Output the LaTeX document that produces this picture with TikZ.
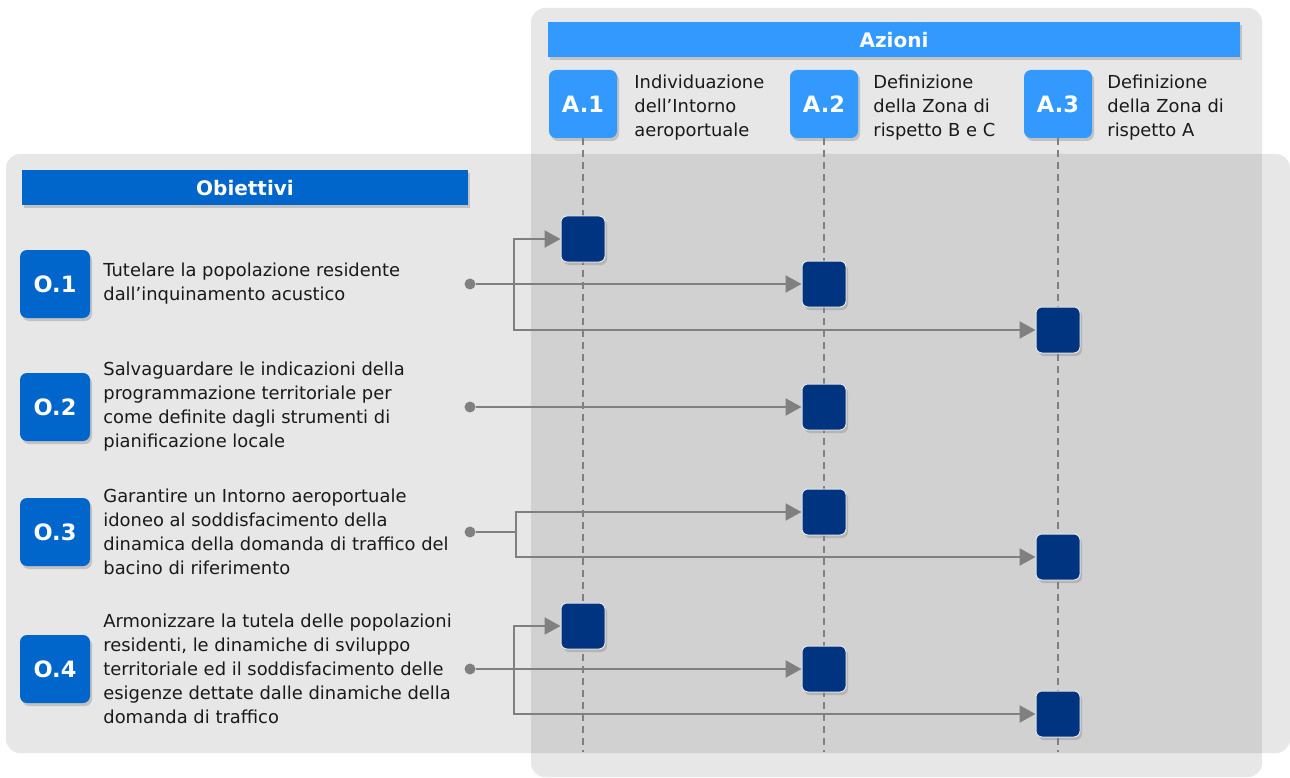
\documentclass[tikz,border=0pt]{standalone}
\usepackage{fontspec}
\setmainfont{DejaVu Sans}
\usepackage{xcolor}
\usepackage{tikz}
\usetikzlibrary{positioning,arrows.meta,shadows,calc}

\definecolor{azure}{HTML}{3399FF}
\definecolor{obblue}{HTML}{0066CC}
\definecolor{navy}{HTML}{003380}
\definecolor{linegray}{HTML}{808080}
\definecolor{txt}{HTML}{1A1A1A}

\tikzset{
  panel/.style={fill=black, fill opacity=0.095, rounded corners=14pt},
  softshadow/.style={drop shadow={shadow xshift=2pt, shadow yshift=-3pt, opacity=0.35}},
  bar/.style={minimum height=35pt, inner sep=0pt, text=white, softshadow,
    font=\bfseries\fontsize{20}{20}\selectfont},
  codebox/.style={rounded corners=7pt, minimum width=68pt, minimum height=68pt, inner sep=0pt,
    text=white, softshadow, font=\bfseries\fontsize{22.5}{22.5}\selectfont},
  cellbox/.style={fill=navy, draw=white!80!gray, line width=1pt, rounded corners=6pt,
    minimum width=44pt, minimum height=46pt, inner sep=0pt, softshadow},
  desc/.style={align=left, inner sep=0pt, text=txt, font=\fontsize{17.9}{24}\selectfont},
  guide/.style={linegray, line width=1.4pt, dash pattern=on 7pt off 5pt},
  link/.style={linegray, line width=2.3pt, -{Triangle[length=16pt,width=17pt]}},
  joint/.style={linegray, line width=2.3pt},
  dot/.style={circle, fill=linegray, inner sep=0pt, minimum size=11pt},
}

\begin{document}
\begin{tikzpicture}[x=1pt,y=-1pt]
    \useasboundingbox (0,0) rectangle (1290,778);

    % the two panels, overlapping
    \fill[panel] (531,8) rectangle (1262,777);
    \fill[panel] (6,154) rectangle (1290,753);

    % headers
    \node[bar, fill=azure, minimum width=692pt] (azioni) at (894,40) {Azioni};
    \node[bar, fill=obblue, minimum width=446pt] (obiettivi) at (245,188) {Obiettivi};

    % actions
    \node[codebox, fill=azure] (a1) at (583,104) {A.1};
    \node[codebox, fill=azure] (a2) at (824,104) {A.2};
    \node[codebox, fill=azure] (a3) at (1058,104) {A.3};
    \node[desc, right=17pt of a1, yshift=-4pt] (t1) {Individuazione\\dell’Intorno\\aeroportuale};
    \node[desc, right=15pt of a2, yshift=-4pt] (t2) {Definizione\\della Zona di\\rispetto B e C};
    \node[desc, right=15pt of a3, yshift=-4pt] (t3) {Definizione\\della Zona di\\rispetto A};

    \coordinate (bottom) at (0,752);
    \foreach \a in {a1,a2,a3}
        \draw[guide] (\a.south) -- (\a.south |- bottom);

    % objectives
    \node[codebox, fill=obblue, minimum width=70pt] (o1) at (55,284) {O.1};
    \node[codebox, fill=obblue, minimum width=70pt] (o2) at (55,407) {O.2};
    \node[codebox, fill=obblue, minimum width=70pt] (o3) at (55,532) {O.3};
    \node[codebox, fill=obblue, minimum width=70pt] (o4) at (55,669) {O.4};
    \node[desc, right=13pt of o1] (s1) {Tutelare la popolazione residente\\dall’inquinamento acustico};
    \node[desc, right=13pt of o2] (s2) {Salvaguardare le indicazioni della\\programmazione territoriale per\\come definite dagli strumenti di\\pianificazione locale};
    \node[desc, right=13pt of o3] (s3) {Garantire un Intorno aeroportuale\\idoneo al soddisfacimento della\\dinamica della domanda di traffico del\\bacino di riferimento};
    \node[desc, right=13pt of o4] (s4) {Armonizzare la tutela delle popolazioni\\residenti, le dinamiche di sviluppo\\territoriale ed il soddisfacimento delle\\esigenze dettate dalle dinamiche della\\domanda di traffico};

    % matrix cells
    \node[cellbox] (c11) at (a1 |- 0,239) {};
    \node[cellbox] (c12) at (a2 |- 0,284) {};
    \node[cellbox] (c13) at (a3 |- 0,330) {};
    \node[cellbox] (c22) at (a2 |- 0,407) {};
    \node[cellbox] (c32) at (a2 |- 0,512) {};
    \node[cellbox] (c33) at (a3 |- 0,557) {};
    \node[cellbox] (c41) at (a1 |- 0,626) {};
    \node[cellbox] (c42) at (a2 |- 0,669) {};
    \node[cellbox] (c43) at (a3 |- 0,714) {};

    % links
    \node[dot] (d1) at (470,284) {};
    \node[dot] (d2) at (470,407) {};
    \node[dot] (d3) at (470,532) {};
    \node[dot] (d4) at (470,669) {};
    \coordinate (b1) at (514,284);
    \coordinate (b3) at (516,532);
    \coordinate (b4) at (514,669);

    \draw[link] (d1) -- (c12);
    \draw[link] (b1) |- (c11);
    \draw[link] (b1) |- (c13);
    \draw[link] (d2) -- (c22);
    \draw[joint] (d3) -- (b3);
    \draw[link] (b3) |- (c32);
    \draw[link] (b3) |- (c33);
    \draw[link] (d4) -- (c42);
    \draw[link] (b4) |- (c41);
    \draw[link] (b4) |- (c43);
\end{tikzpicture}
\end{document}
